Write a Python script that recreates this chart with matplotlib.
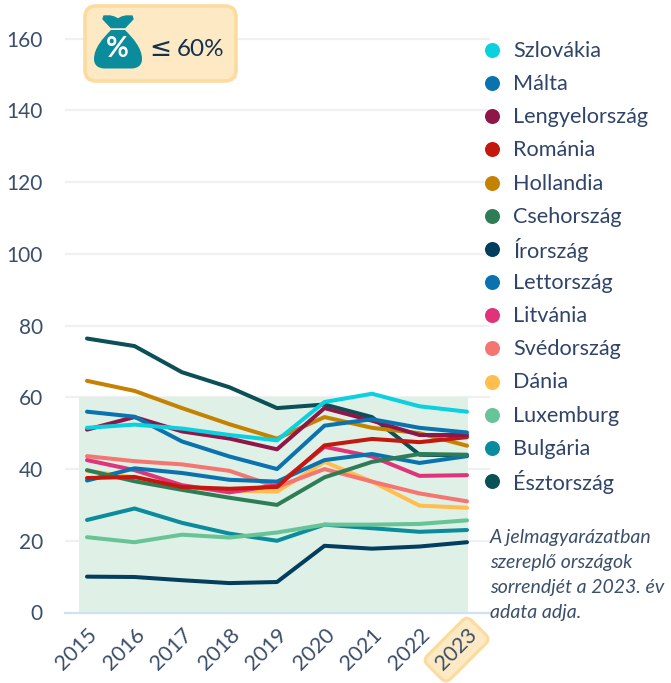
import matplotlib
matplotlib.use("Agg")
import matplotlib.pyplot as plt
from matplotlib.patches import FancyBboxPatch, PathPatch
from matplotlib.path import Path

plt.rcParams['font.family'] = ['Lato', 'DejaVu Sans']

years = [2015, 2016, 2017, 2018, 2019, 2020, 2021, 2022, 2023]
y_ticks = [0, 20, 40, 60, 80, 100, 120, 140, 160]

szlovakia = [51.5, 52.4, 51.3, 49.5, 48.0, 58.7, 61.0, 57.5, 56.0]
malta = [56.0, 54.6, 47.7, 43.5, 40.0, 52.1, 53.9, 51.5, 50.2]
lengyel = [51.0, 54.5, 50.5, 48.5, 45.5, 57.0, 53.5, 49.5, 49.5]
romania = [37.5, 37.8, 35.0, 34.5, 35.0, 46.6, 48.4, 47.5, 48.9]
hollandia = [64.6, 61.8, 57.0, 52.5, 48.5, 54.5, 51.5, 50.0, 46.5]
cseh = [39.7, 36.6, 34.2, 32.0, 30.0, 37.7, 42.0, 44.2, 44.0]
irorszag = [10.0, 9.9, 9.0, 8.2, 8.5, 18.6, 17.8, 18.4, 19.6]
lett = [36.8, 40.2, 38.9, 37.0, 36.5, 42.5, 44.2, 41.7, 43.6]
litvania = [42.5, 39.7, 35.5, 33.5, 35.5, 46.2, 43.5, 38.1, 38.3]
sved = [43.6, 42.2, 41.3, 39.5, 35.0, 40.0, 36.5, 33.2, 31.0]
dania = [39.5, 37.7, 35.0, 34.0, 33.7, 42.0, 36.5, 29.8, 29.2]
luxemburg = [21.0, 19.6, 21.7, 20.9, 22.3, 24.5, 24.5, 24.7, 25.7]
bulgaria = [25.8, 29.0, 25.0, 22.0, 20.0, 24.5, 23.5, 22.5, 23.0]
esztorszag = [76.4, 74.3, 67.0, 62.8, 57.0, 58.0, 54.5, 44.0, 43.8]

names = ['Szlovákia', 'Málta', 'Lengyelország', 'Románia', 'Hollandia', 'Csehország', 'Írország',
         'Lettország', 'Litvánia', 'Svédország', 'Dánia', 'Luxemburg', 'Bulgária', 'Észtország']
series = [szlovakia, malta, lengyel, romania, hollandia, cseh, irorszag,
          lett, litvania, sved, dania, luxemburg, bulgaria, esztorszag]
colors = ['#0BD0E0', '#0A72AE', '#8E1648', '#C4180F', '#C48200', '#2E7D57', '#033E5E',
          '#0A72AE', '#E0337A', '#F57570', '#FFBE4D', '#66C496', '#0A8C9C', '#0B4F57']
note = 'A jelmagyarázatban\nszereplő országok\nsorrendjét a 2023. év\nadata adja.'

W, H = 671, 683
text_col = '#3B4F6B'
fig = plt.figure(figsize=(W / 100, H / 100), dpi=100)
ax = fig.add_axes([65 / W, 1 - 612.5 / H, 425 / W, (612.5 - 2) / H])

# green band up to the 60% limit
idx = list(range(len(years)))
ax.fill_between([-0.17, 8.02], 0, 60, color='#DFF1E6', lw=0, zorder=1.5)
for i in range(len(series) - 1, -1, -1):
    ax.plot(idx, series[i], color=colors[i], lw=2.9, solid_capstyle='round', zorder=2 + (14 - i) * 0.01)

ax.set_xlim(-22 / 47.5, 8 + 23 / 47.5)
ax.set_ylim(0, 610.5 / 3.586)
ax.set_yticks(y_ticks)
ax.set_xticks(idx)
ax.set_xticklabels(years, rotation=45, ha='right', rotation_mode='anchor')
ax.tick_params(length=0, labelsize=15, labelcolor=text_col)
ax.tick_params(axis='y', pad=16)
ax.tick_params(axis='x', pad=9, labelsize=15.5)
ax.grid(axis='y', color='#F0F0F0', lw=1.6, zorder=1)
ax.set_axisbelow(True)
for side in ['top', 'right', 'left']:
    ax.spines[side].set_visible(False)
ax.spines['bottom'].set_color('#CFE2F3')
ax.spines['bottom'].set_linewidth(1.6)
ax.get_xticklabels()[-1].set_bbox(dict(boxstyle='round,pad=0.3,rounding_size=0.3', fc='#FDE9C4', ec='#FBDC9E', lw=2.2))
ax.patch.set_alpha(0)

# overlay in pixel coordinates for legend, badge and note
ov = fig.add_axes([0, 0, 1, 1])
ov.set_xlim(0, W)
ov.set_ylim(H, 0)
ov.axis('off')
ov.patch.set_alpha(0)

for i, name in enumerate(names):
    row_y = 50 + i * 33.15
    ov.plot([492], [row_y], marker='o', ms=10.8, color=colors[i], mew=0, ls='none')
    ov.text(513, row_y - 1, name, fontsize=15.6, color='#2F4468', ha='left', va='center_baseline')

ov.add_patch(FancyBboxPatch((85, 6), 151, 75, boxstyle='round,pad=0,rounding_size=11',
                            fc='#FDE9C4', ec='#FBDC9E', lw=2.6, zorder=5))
M, L, C, Z = Path.MOVETO, Path.LINETO, Path.CURVE4, Path.CLOSEPOLY
bag = [(111, 30), (103, 38), (94, 48), (94, 59), (94, 65), (98, 68.5), (105, 68.5),
       (131, 68.5), (138, 68.5), (142, 65), (142, 59), (142, 48), (133, 38), (125, 30), (111, 30)]
bag_codes = [M, C, C, C, C, C, C, L, C, C, C, C, C, C, Z]
ov.add_patch(PathPatch(Path(bag, bag_codes), fc='#0A8C9C', ec='none', zorder=6))
neck = [(104, 16), (110, 16), (114, 17), (118, 19), (122, 17), (126, 16), (132, 16), (133, 19),
        (125, 27.5), (111, 27.5), (103, 19), (104, 16)]
neck_codes = [M, L, L, L, L, L, L, L, L, L, L, Z]
ov.add_patch(PathPatch(Path(neck, neck_codes), fc='#0A8C9C', ec='#0A8C9C', lw=1, joinstyle='round', zorder=6))
ov.text(117.5, 49, '%', color='white', fontsize=20, weight='bold', ha='center', va='center', zorder=7)
ov.text(149, 49, '≤', color='#14304F', fontsize=19, ha='left', va='center', family=['DejaVu Sans'], zorder=7)
ov.text(176.5, 49, '60%', color='#14304F', fontsize=17.5, ha='left', va='center', zorder=7)

ov.text(490, 575, note, style='italic', fontsize=14, color=text_col, ha='left', va='center', linespacing=1.57)

fig.savefig('out.png', dpi=100)
